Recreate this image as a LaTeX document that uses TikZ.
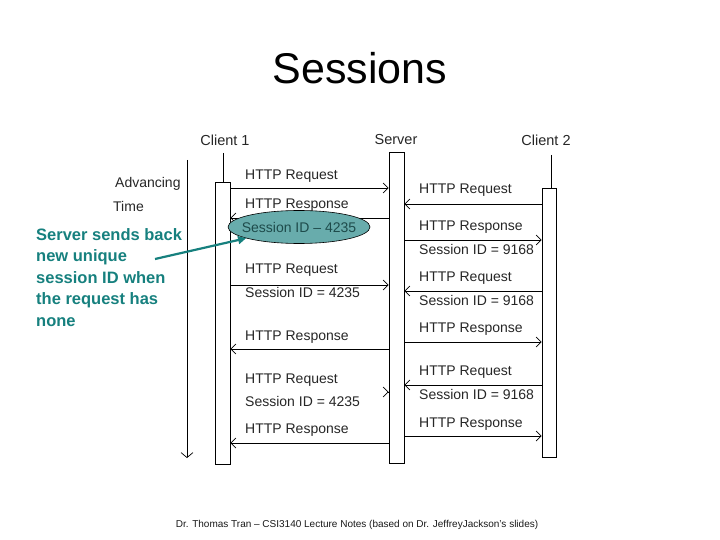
\documentclass[tikz,border=0pt]{standalone}
\usepackage{fontspec}
\setmainfont{Liberation Sans}
\usetikzlibrary{arrows.meta,shapes.geometric}
\definecolor{ellfill}{RGB}{104,172,172}
\definecolor{elltext}{RGB}{30,75,75}
\definecolor{callteal}{RGB}{22,128,126}
\tikzset{
  lbox/.style={draw=black, line width=0.8pt, fill=white, inner sep=0pt},
  msg/.style={draw=black, line width=0.8pt, -{Straight Barb[length=5pt,width=10pt,line width=0.7pt]}},
  lbl/.style={anchor=west, inner sep=0pt, font=\fontsize{14}{16}\selectfont, text=black!85},
  hdr/.style={inner sep=0pt, font=\fontsize{14.5}{16}\selectfont, text=black!85},
}
\begin{document}
\begin{tikzpicture}[x=1pt,y=-1pt]
\useasboundingbox (0,0) rectangle (720,540);
\node[font=\fontsize{43}{50}\selectfont] (title) at (360,68) {Sessions};
% headers
\node[hdr] (h1) at (225,140) {Client 1};
\node[hdr] (h2) at (396,140) {Server};
\node[hdr] (h3) at (546,140) {Client 2};
% lifelines
\node[lbox, minimum width=15pt, minimum height=282pt] (c1) at (222.5,323) {};
\node[lbox, minimum width=15pt, minimum height=311pt] (srv) at (396.5,307.5) {};
\node[lbox, minimum width=14pt, minimum height=269pt] (c2) at (549,322.5) {};
\coordinate (c1top) at (223,153);
\coordinate (c2top) at (551,155);
\draw[line width=0.8pt] (c1top) -- (c1top |- c1.north);
\draw[line width=0.8pt] (c2top) -- (c2top |- c2.north);
% time axis
\coordinate (t0) at (187,160);
\coordinate (t1) at (187,458);
\draw[line width=0.8pt, -{Straight Barb[length=5pt,width=12pt,line width=0.7pt]}] (t0) -- (t1);
\node[lbl] (adv) at (115,184) {Advancing};
\node[lbl] (time) at (113,206) {Time};
% left messages
\draw[msg] (c1.east |- 0,188) -- (srv.west |- 0,188);
\draw[msg] (srv.west |- 0,218) -- (c1.east |- 0,218);
\draw[msg] (c1.east |- 0,285) -- (srv.west |- 0,285);
\draw[msg] (srv.west |- 0,349) -- (c1.east |- 0,349);
\coordinate (r5) at (387.5,392);
\draw[msg] (r5) -- (srv.west |- r5);
\draw[msg] (srv.west |- 0,443) -- (c1.east |- 0,443);
% right messages
\draw[msg] (c2.west |- 0,204) -- (srv.east |- 0,204);
\draw[msg] (srv.east |- 0,240) -- (c2.west |- 0,240);
\draw[msg] (c2.west |- 0,291) -- (srv.east |- 0,291);
\draw[msg] (srv.east |- 0,342) -- (c2.west |- 0,342);
\draw[msg] (c2.west |- 0,385) -- (srv.east |- 0,385);
\draw[msg] (srv.east |- 0,436) -- (c2.west |- 0,436);
% left labels
\node[lbl] (l1) at (245,176) {HTTP Request};
\node[lbl] (l2) at (245,205) {HTTP Response};
\node[draw=black, line width=0.6pt, ellipse, fill=ellfill, minimum width=142pt, minimum height=33pt, inner sep=0pt] (sid) at (299,227) {};
\node[inner sep=0pt, text=elltext, font=\fontsize{14}{16}\selectfont] (sidtext) at (sid.center) {Session ID -- 4235};
\node[lbl] (l3) at (245,270) {HTTP Request};
\node[lbl] (l4) at (245,292) {Session ID = 4235};
\node[lbl] (l5) at (245,337) {HTTP Response};
\node[lbl] (l6) at (245,380) {HTTP Request};
\node[lbl] (l7) at (245,401) {Session ID = 4235};
\node[lbl] (l8) at (245,430) {HTTP Response};
% right labels
\node[lbl] (r1) at (419,190) {HTTP Request};
\node[lbl] (r2) at (419,227) {HTTP Response};
\node[lbl] (r3) at (419,249) {Session ID = 9168};
\node[lbl] (r4) at (419,278) {HTTP Request};
\node[lbl] (r5l) at (419,300) {Session ID = 9168};
\node[lbl] (r6) at (419,329) {HTTP Response};
\node[lbl] (r7) at (419,372) {HTTP Request};
\node[lbl] (r8) at (419,394) {Session ID = 9168};
\node[lbl] (r9) at (419,424) {HTTP Response};
% callout
\node[anchor=north west, inner sep=0pt, align=left, text=callteal, font=\bfseries\fontsize{16.5}{21.5}\selectfont] (callout) at (36,228) {Server sends back\\new unique\\session ID when\\the request has\\none};
\coordinate (cstart) at (155,259);
\draw[callteal, line width=2.2pt, -{Triangle[length=8pt,width=8pt]}] (cstart) -- (sid.192);
% footer
\node[font=\fontsize{10}{12}\selectfont, text=black!90] (foot) at (357,525) {Dr. Thomas Tran -- CSI3140 Lecture Notes (based on Dr. JeffreyJackson's slides)};
\end{tikzpicture}
\end{document}
